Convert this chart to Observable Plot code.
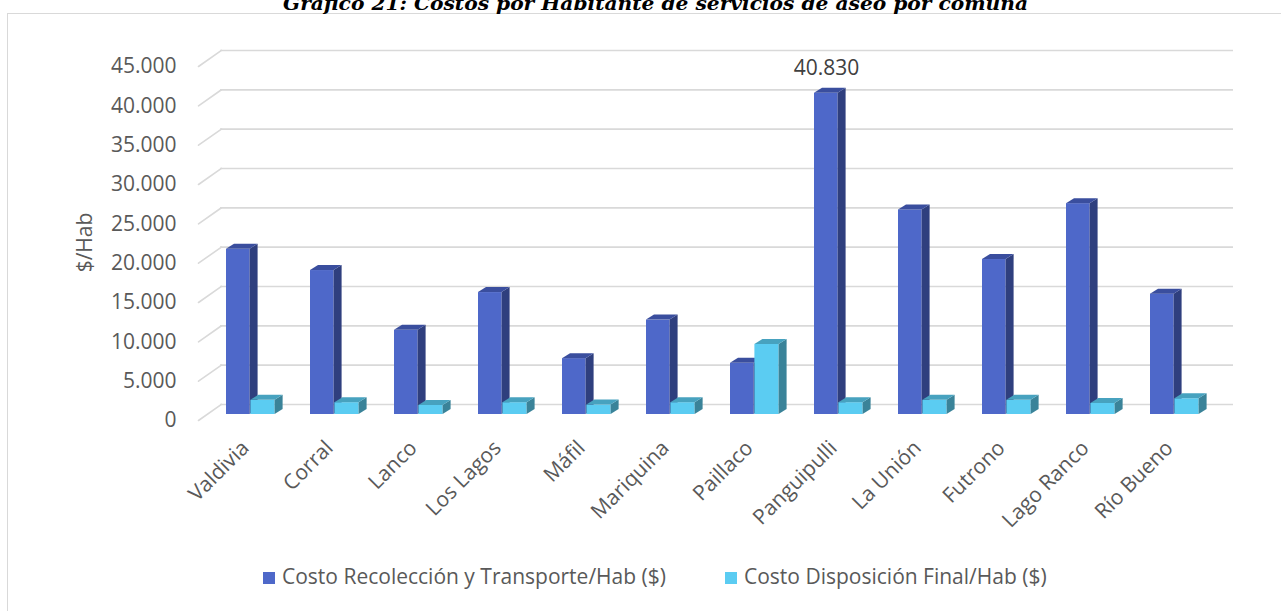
<!DOCTYPE html>
<html>
<head>
<meta charset="utf-8">
<script src="https://cdn.jsdelivr.net/npm/d3@7"></script>
<script src="https://cdn.jsdelivr.net/npm/@observablehq/plot@0.6"></script>
<style>
  html, body { margin: 0; padding: 0; background: #ffffff; overflow: hidden; }
  #root { position: relative; width: 1281px; height: 611px; overflow: hidden; }
  #root > * { position: absolute; }
  .box { left: 7px; top: 13px; width: 1300px; height: 640px; border: 1px solid #d9d9d9; box-sizing: border-box; }
  .leg { font-family: 'Open Sans', sans-serif; font-size: 21px; color: #595959; white-space: nowrap; line-height: 1; }
</style>
</head>
<body>
<div id="root"><div class="box"></div></div>
<script>
// ---- data ----
const comunas = ["Valdivia", "Corral", "Lanco", "Los Lagos", "Máfil", "Mariquina", "Paillaco", "Panguipulli", "La Unión", "Futrono", "Lago Ranco", "Río Bueno"];
const recoleccion = [21000, 18300, 10700, 15500, 7100, 12000, 6500, 40830, 26000, 19700, 26800, 15300];
const disposicion = [1800, 1500, 1150, 1500, 1200, 1500, 8900, 1500, 1800, 1800, 1400, 2000];
const yTicks = [0, 5000, 10000, 15000, 20000, 25000, 30000, 35000, 40000, 45000];
const seriesNames = ["Costo Recolección y Transporte/Hab ($)", "Costo Disposición Final/Hab ($)"];
const etiquetas = [{comuna: "Panguipulli", valor: 40830}];
const titulo = "Gráfico 21: Costos por Habitante de servicios de aseo por comuna";
const ejeY = "$/Hab";

// ---- styling ----
const front = ["#4E68C9", "#5BCCF2"];
const side = ["#2F3F7E", "#3A8399"];
const top_ = ["#3A4E9E", "#47A2BF"];
const DX = 8, DY = -5;

const fmt = d3.formatLocale({decimal: ",", thousands: ".", grouping: [3], currency: ["$", ""]}).format(",.0f");
const rows = comunas.map((c, i) => ({comuna: c, recoleccion: recoleccion[i], disposicion: disposicion[i]}));

function faces(k) {
  return function (index, scales, values, dimensions, context, next) {
    const g = next(index, scales, values, dimensions, context);
    const ns = "http://www.w3.org/2000/svg";
    const rects = Array.from(g.querySelectorAll("rect"));
    for (const r of rects) {
      const x = +r.getAttribute("x"), y = +r.getAttribute("y");
      const w = +r.getAttribute("width"), h = +r.getAttribute("height");
      const s = document.createElementNS(ns, "polygon");
      s.setAttribute("points", `${x + w},${y} ${x + w + DX},${y + DY} ${x + w + DX},${y + h + DY} ${x + w},${y + h}`);
      s.setAttribute("fill", side[k]);
      g.appendChild(s);
      const t = document.createElementNS(ns, "polygon");
      t.setAttribute("points", `${x},${y} ${x + DX},${y + DY} ${x + w + DX},${y + DY} ${x + w},${y}`);
      t.setAttribute("fill", top_[k]);
      g.appendChild(t);
    }
    return g;
  };
}

const lineShape = {draw(context, l) { context.moveTo(0, 0); context.lineTo(0, -l); }};

const chart = Plot.plot({
  width: 1281,
  height: 611,
  marginLeft: 205,
  marginRight: 63,
  marginTop: 60,
  marginBottom: 197,
  style: {fontFamily: "'Open Sans', sans-serif", fontSize: "21px", background: "transparent", overflow: "visible"},
  x: {domain: comunas, padding: 0},
  y: {domain: [0, 45000]},
  marks: [
    Plot.ruleY(yTicks, {y: d => d, dx: 15, dy: -10, stroke: "#d9d9d9", strokeWidth: 1.6}),
    Plot.vector(yTicks, {y: d => d, frameAnchor: "left", length: 28, rotate: 55, anchor: "start", shape: lineShape, stroke: "#d9d9d9", strokeWidth: 1.6, dx: -7, dy: 6}),
    Plot.barY(rows, {x: "comuna", y: "recoleccion", fill: front[0], insetLeft: 18, insetRight: 42.4, render: faces(0)}),
    Plot.barY(rows, {x: "comuna", y: "disposicion", fill: front[1], insetLeft: 42.4, insetRight: 17.4, render: faces(1)}),
    Plot.text(etiquetas, {x: "comuna", y: "valor", text: d => fmt(d.valor), dx: -12, dy: -25, fill: "#404040", fontSize: 21}),
    Plot.axisY(yTicks, {tickSize: 0, tickPadding: 29, dy: 6, tickFormat: fmt, fill: "#595959", fontSize: 21, label: null}),
    Plot.axisX({tickSize: 0, tickPadding: 20, tickRotate: -45, dx: -5, dy: 10, fill: "#595959", fontSize: 21, label: null}),
    Plot.text([ejeY], {frameAnchor: "left", text: d => d, textAnchor: "middle", dx: -120, dy: 5, rotate: -90, fill: "#595959", fontSize: 21})
  ]
});
const root = document.getElementById("root");
chart.style.left = "0px";
chart.style.top = "0px";
root.appendChild(chart);

// title
const tsvg = d3.select(root).append("svg").attr("width", 1281).attr("height", 30).style("left", "0px").style("top", "0px");
tsvg.append("text").attr("x", 283).attr("y", 10).attr("textLength", 745).attr("lengthAdjust", "spacingAndGlyphs")
  .attr("font-family", "'DejaVu Serif', serif").attr("font-weight", "bold").attr("font-style", "italic")
  .attr("font-size", 18).attr("fill", "#000").text(titulo);

// legend
const legX = [263, 725];
seriesNames.forEach((name, i) => {
  d3.select(root).append("div").style("left", legX[i] + "px").style("top", "572px")
    .style("width", "12px").style("height", "12px").style("background", front[i]);
  d3.select(root).append("div").attr("class", "leg").style("left", (legX[i] + 19) + "px").style("top", "566px").text(name);
});
</script>
</body>
</html>
